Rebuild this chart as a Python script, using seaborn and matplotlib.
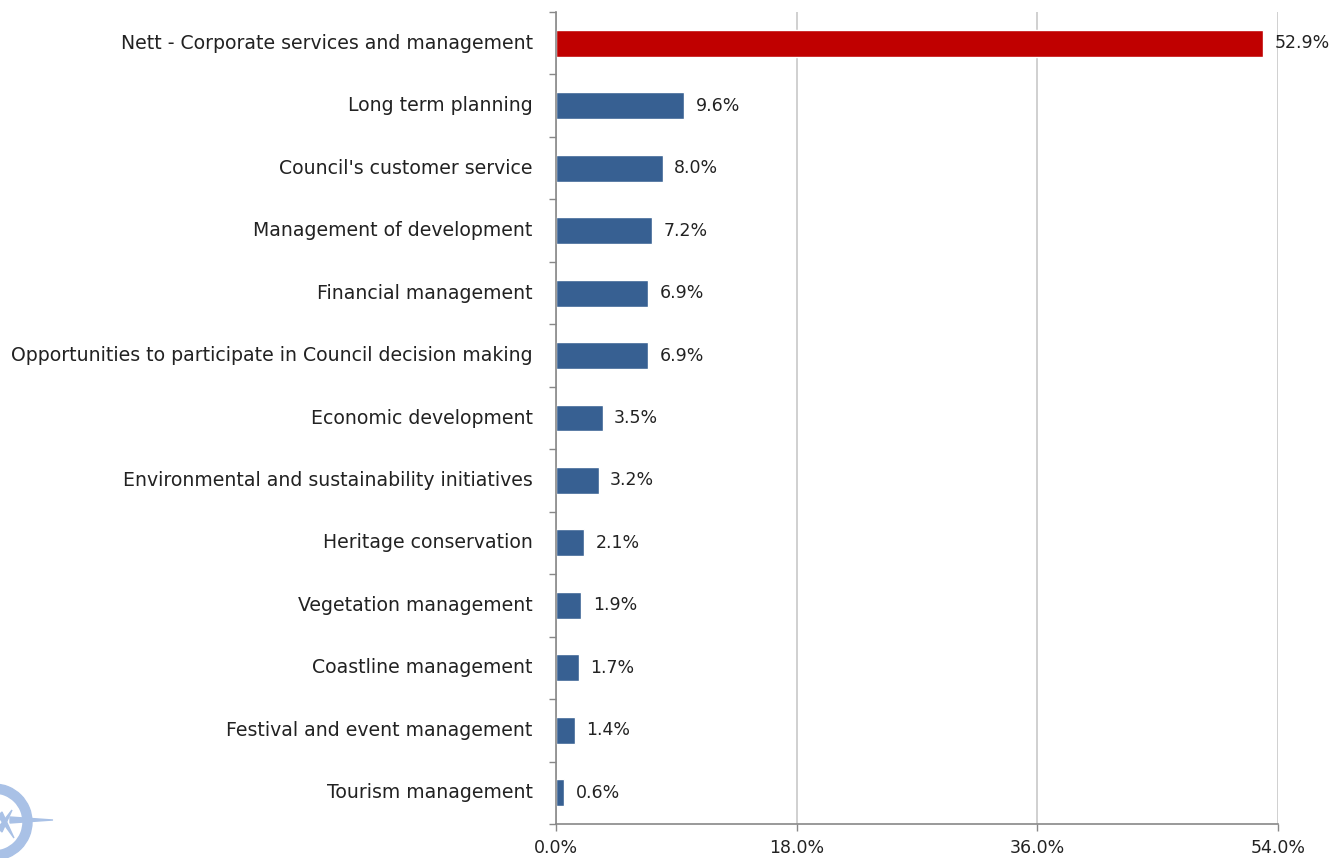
"""Horizontal bar chart of service importance."""
import numpy as np
import pandas as pd
import matplotlib.pyplot as plt
import seaborn as sns
from matplotlib.patches import Wedge, Polygon

categories = [
    "Nett - Corporate services and management",
    "Long term planning",
    "Council's customer service",
    "Management of development",
    "Financial management",
    "Opportunities to participate in Council decision making",
    "Economic development",
    "Environmental and sustainability initiatives",
    "Heritage conservation",
    "Vegetation management",
    "Coastline management",
    "Festival and event management",
    "Tourism management",
]
values = [52.9, 9.6, 8.0, 7.2, 6.9, 6.9, 3.5, 3.2, 2.1, 1.9, 1.7, 1.4, 0.6]
highlight = ["Nett"] + ["Other"] * 12
x_ticks = [0, 18, 36, 54]

sns.set_style("white")
plt.rcParams["font.family"] = ["DejaVu Sans"]

df = pd.DataFrame({"service": categories, "pct": values, "group": highlight})

fig = plt.figure(figsize=(13.44, 8.58), dpi=100)
ax = fig.add_axes([556 / 1344, 34 / 858, 722 / 1344, 812 / 858])

sns.barplot(data=df, x="pct", y="service", hue="group", dodge=False,
            palette={"Nett": "#C00000", "Other": "#376092"},
            width=0.43, legend=False, ax=ax, saturation=1)

ax.set_xlim(0, 54)
ax.set_ylim(len(categories) - 0.5, -0.5)
ax.set_xticks(x_ticks)
ax.set_xticklabels([f"{t:.1f}%" for t in x_ticks], fontsize=12.5, color="#222222")
ax.xaxis.grid(True, color="#c8c8c8", linewidth=1.2)
ax.set_axisbelow(True)
ax.set_xlabel("")
ax.set_ylabel("")

# category labels as text, ticks at the category boundaries
ax.set_yticks(np.arange(len(categories) + 1) - 0.5)
ax.set_yticklabels([])
ax.tick_params(axis="y", length=5, color="#888888", width=1, direction="out", left=True)
ax.tick_params(axis="x", length=5, color="#888888", width=1, direction="out", bottom=True, pad=6)
for i, name in enumerate(categories):
    ax.text(-1.73, i, name, ha="right", va="center",
            fontsize=13.6, color="#222222")

for s in ["top", "right"]:
    ax.spines[s].set_visible(False)
for s in ["left", "bottom"]:
    ax.spines[s].set_color("#888888")
    ax.spines[s].set_linewidth(1.2)

for i, v in enumerate(values):
    ax.text(v + 0.85, i, f"{v:.1f}%", ha="left", va="center",
            fontsize=12.5, color="#222222")

# faint compass logo in the lower-left corner (display coords, origin bottom-left)
logo = "#a9c1e6"
cy = 858 - 822
fig.patches.append(Wedge((-6, cy), 38, 0, 360, width=9, color=logo,
                         transform=None, figure=fig))
fig.patches.append(Polygon([(10, cy + 5), (53, cy + 2), (10, cy - 1)], closed=True,
                           color=logo, transform=None, figure=fig))
fig.patches.append(Polygon([(-2, cy - 6), (12, cy + 12), (2, cy - 10)], closed=True,
                           color=logo, transform=None, figure=fig))
fig.patches.append(Polygon([(2, cy + 10), (14, cy - 16), (-2, cy + 6)], closed=True,
                           color=logo, transform=None, figure=fig))

fig.savefig("out.png", dpi=100)
